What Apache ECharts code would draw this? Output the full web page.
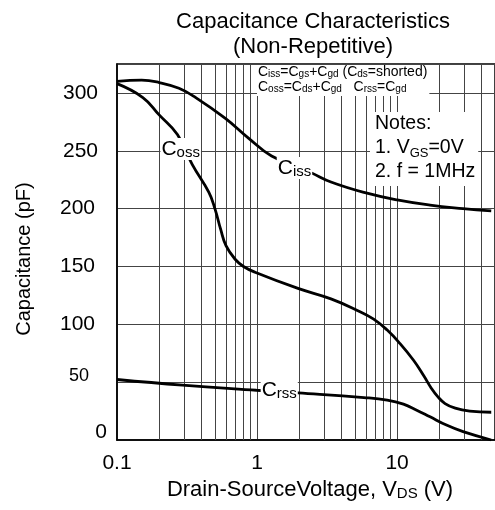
<!DOCTYPE html>
<html>
<head>
<meta charset="utf-8">
<script src="https://cdn.jsdelivr.net/npm/echarts@6/dist/echarts.min.js"></script>
<style>html,body{margin:0;padding:0;background:#fff}#c{width:495px;height:510px}</style>
</head>
<body>
<div id="c"></div>
<script>
// ---- data ----
var xMin = 0.1, xMax = 50;
var yMin = 0, yMax = 325, yInterval = 50;
var minorGridX = [0.2,0.3,0.4,0.5,0.6,0.7,0.8,0.9,2,3,4,5,6,7,8,9,20,30,40];
var ciss = [[0.1,310],[0.15,311],[0.2,309],[0.277,304],[0.365,296],[0.594,278],[0.868,261],[1.27,245.5],[2.43,231],[3.37,223],[5.8,214],[10,207.5],[17.2,203],[29.6,200],[47,198]];
var coss = [[0.1,308],[0.153,296],[0.2,281],[0.27,264],[0.345,238],[0.453,214],[0.5,200],[0.55,182],[0.6,168],[0.7,156],[0.8,150],[0.968,145],[1.96,131],[3.37,122],[5.2,112],[6.8,104.5],[8.5,95],[10.5,83.3],[13.1,68.9],[15.5,55.5],[17.5,45],[19.5,37.5],[22,31.5],[26,27.5],[33,25],[47,24]];
var crss = [[0.1,52.3],[0.293,47.4],[0.99,43],[1.96,40.7],[5.8,36.7],[8.5,34.5],[11.1,31],[13.8,25.8],[17.2,20],[22.5,12.9],[29.6,7.2],[47,0]];
var labelCiss = [1.85,235], labelCoss = [0.285,251.5], labelCrss = [1.44,43];
var titleText = 'Capacitance Characteristics\n(Non-Repetitive)';
var xName = 'Drain-SourceVoltage, V{s|DS} (V)';
var yName = 'Capacitance (pF)';

var FONT = 'Liberation Sans, Arial, Helvetica, sans-serif';
var chart = echarts.init(document.getElementById('c'), null, {renderer:'canvas'});

function curveLabel(coord, sub){
  return {
    symbol:'rect', symbolSize:0, silent:true, z:10,
    data:[{coord:coord}],
    label:{show:true, position:'inside', backgroundColor:'#fff', padding:[0,1,0,1],
      formatter:'{c|C}{s|'+sub+'}',
      rich:{c:{fontSize:21,lineHeight:22,color:'#000',fontFamily:FONT},
            s:{fontSize:15,lineHeight:12,verticalAlign:'bottom',color:'#000',fontFamily:FONT}}}
  };
}
var lineStyle = {color:'#000', width:2.8};
var GRID = '#444';

var option = {
  animation:false,
  backgroundColor:'#fff',
  title:{text:titleText, left:308, top:4, textAlign:'center',
    textStyle:{fontFamily:FONT, fontSize:22, fontWeight:'normal', color:'#000', lineHeight:25}},
  grid:{left:117, top:64, width:382, height:376, show:true, borderColor:'#000', borderWidth:1.5, backgroundColor:'transparent'},
  xAxis:{type:'log', logBase:10, min:xMin, max:xMax,
    name:xName, nameLocation:'middle', nameGap:36,
    nameTextStyle:{fontFamily:FONT, fontSize:22, color:'#000', padding:[0,0,0,8],
      rich:{s:{fontSize:15, lineHeight:14, verticalAlign:'bottom', fontFamily:FONT, color:'#000'}}},
    axisLine:{show:true, lineStyle:{color:'#000', width:1.5}},
    axisTick:{show:false},
    axisLabel:{fontFamily:FONT, fontSize:21, color:'#000', margin:13, showMaxLabel:false,
      formatter:function(v){return String(+v.toPrecision(3));}},
    splitLine:{show:true, lineStyle:{color:GRID, width:1}}
  },
  yAxis:{type:'value', min:yMin, max:yMax, interval:yInterval,
    name:yName, nameLocation:'middle', nameGap:83, nameRotate:90,
    nameTextStyle:{fontFamily:FONT, fontSize:20, color:'#000', padding:[0,14,0,0]},
    axisLine:{show:true, lineStyle:{color:'#000', width:1.5}},
    axisTick:{show:false},
    axisLabel:{fontFamily:FONT, fontSize:21, color:'#000', margin:10, showMaxLabel:false,
      formatter:function(v){
        if(v===300||v===250) return '{a|'+v+'}';
        if(v===50) return '{c|'+v+'}';
        if(v===0) return '{d|'+v+'}';
        return '{b|'+v+'}';
      },
      rich:{a:{fontFamily:FONT,fontSize:21,color:'#000',padding:[0,9,0,0]},
            b:{fontFamily:FONT,fontSize:21,color:'#000',padding:[0,12,0,0]},
            c:{fontFamily:FONT,fontSize:18,color:'#000',padding:[0,18,12,0]},
            d:{fontFamily:FONT,fontSize:21,color:'#000',padding:[0,0,16,0]}}},
    splitLine:{show:true, lineStyle:{color:GRID, width:1}}
  },
  series:[
    {name:'Ciss', type:'line', data:ciss, showSymbol:false, smooth:0.45, lineStyle:lineStyle, z:3,
      markPoint:curveLabel(labelCiss,'iss'),
      markLine:{silent:true, symbol:'none', z:1, label:{show:false},
        lineStyle:{color:GRID, width:1, type:'solid'},
        data:minorGridX.map(function(v){return {xAxis:v};})}},
    {name:'Coss', type:'line', data:coss, showSymbol:false, smooth:0.45, lineStyle:lineStyle, z:3,
      markPoint:curveLabel(labelCoss,'oss')},
    {name:'Crss', type:'line', data:crss, showSymbol:false, smooth:0.45, lineStyle:lineStyle, z:3,
      markPoint:curveLabel(labelCrss,'rss')}
  ],
  graphic:[
    {type:'text', left:257, top:65, z:100,
      style:{text:'{m|C}{s|iss}{m|=C}{s|gs}{m|+C}{s|gd}{m| (C}{s|ds}{m|=shorted)}\n{m|C}{s|oss}{m|=C}{s|ds}{m|+C}{s|gd}{m|   C}{s|rss}{m|=C}{s|gd}',
        backgroundColor:'#fff', padding:[0,2,2,1],
        rich:{m:{fontFamily:FONT,fontSize:14,lineHeight:14.5,fill:'#000'},
              s:{fontFamily:FONT,fontSize:10,lineHeight:10,verticalAlign:'bottom',fill:'#000'}}}},
    {type:'text', left:370, top:112, z:100,
      style:{text:'{n|Notes:}\n{n|1. V}{s|GS}{n|=0V}\n{n|2. f = 1MHz}',
        backgroundColor:'#fff', padding:[0,3,2,5],
        rich:{n:{fontFamily:FONT,fontSize:19.5,lineHeight:24,fill:'#000'},
              s:{fontFamily:FONT,fontSize:13,lineHeight:21,verticalAlign:'bottom',fill:'#000'}}}}
  ]
};
chart.setOption(option);
</script>
</body>
</html>
